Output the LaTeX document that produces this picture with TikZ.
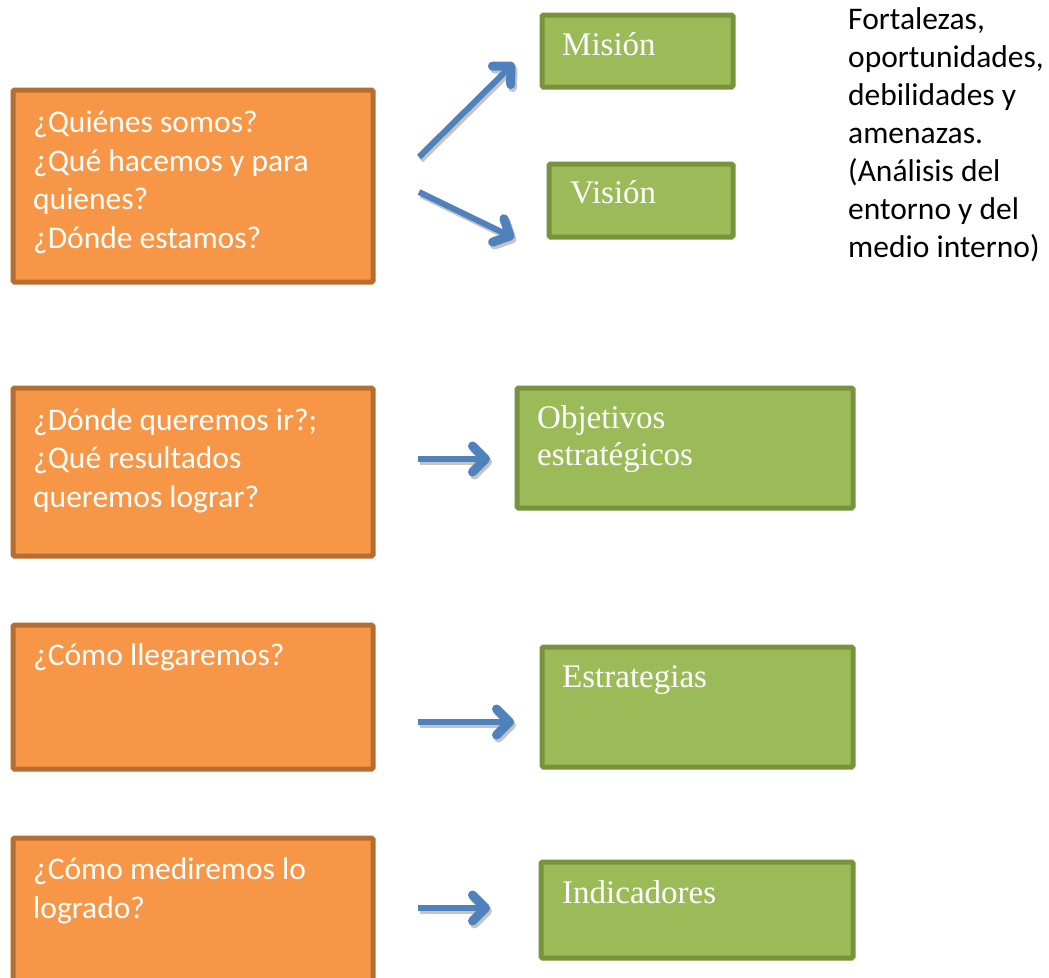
\documentclass[tikz,border=0pt]{standalone}
\usepackage{fontspec}
\usetikzlibrary{arrows.meta}
\newfontfamily\qfont{Carlito}
\newfontfamily\gfont{Liberation Serif}
\definecolor{orangefill}{HTML}{F79646}
\definecolor{orangeline}{HTML}{B66D31}
\definecolor{greenfill}{HTML}{9BBB59}
\definecolor{greenline}{HTML}{77933C}
\definecolor{arrowblue}{HTML}{4F81BD}
\definecolor{shadowgray}{HTML}{C4C4C4}

\begin{document}
\begin{tikzpicture}[x=1pt,y=-1pt,
    qbox/.style={rectangle,draw=orangeline,fill=orangefill,line width=5pt,rounded corners=1.5pt,anchor=north west,inner sep=0pt,minimum width=360pt},
    gbox/.style={rectangle,draw=greenline,fill=greenfill,line width=5pt,rounded corners=1.5pt,anchor=north west,inner sep=0pt},
    qtext/.style={anchor=base west,inner sep=0pt,align=left,text=white,font=\qfont\fontsize{31.5}{38.5}\selectfont},
    gtext/.style={anchor=base west,inner sep=0pt,align=left,text=white,font=\gfont\fontsize{33}{37}\selectfont},
    ftext/.style={anchor=base west,inner sep=0pt,align=left,text=black,font=\qfont\fontsize{31.5}{38}\selectfont},
    punta/.tip={Straight Barb[length=13pt,width=26pt,line width=9pt,line cap=round,line join=round]},
    flecha/.style={line width=6pt,arrowblue,-punta},
    sombra/.style={line width=6pt,shadowgray,-punta,transform canvas={xshift=2pt,yshift=-3pt}}]
    \useasboundingbox (0,0) rectangle (1049,977);

    % preguntas (base = ultima linea)
    \node[qbox,minimum height=192pt] (quienes) at (10.5,87.5) {};
    \node[qbox,minimum height=168pt] (donde) at (10.5,385.5) {};
    \node[qbox,minimum height=144pt] (como) at (10.5,622.5) {};
    \node[qbox,minimum height=170pt] (medir) at (10.5,835.5) {};

    \node[qtext] (quienes-t) at (33,248) {¿Quiénes somos?\\¿Qué hacemos y para\\quienes?\\¿Dónde estamos?};
    \node[qtext] (donde-t) at (33,507) {¿Dónde queremos ir?;\\¿Qué resultados\\queremos lograr?};
    \node[qtext] (como-t) at (33,665) {¿Cómo llegaremos?};
    \node[qtext] (medir-t) at (33,918) {¿Cómo mediremos lo\\logrado?};

    % respuestas
    \node[gbox,minimum width=191pt,minimum height=72pt] (mision) at (539.5,12.5) {};
    \node[gbox,minimum width=184pt,minimum height=73pt] (vision) at (546.5,161.5) {};
    \node[gbox,minimum width=336pt,minimum height=120pt] (objetivos) at (514.5,385.5) {};
    \node[gbox,minimum width=311pt,minimum height=120pt] (estrategias) at (539.5,644.5) {};
    \node[gbox,minimum width=312pt,minimum height=96pt] (indicadores) at (538.5,859.5) {};

    \node[gtext] (mision-t) at (562,55) {Misión};
    \node[gtext] (vision-t) at (570,203) {Visión};
    \node[gtext] (objetivos-t) at (537,465) {Objetivos\\estratégicos};
    \node[gtext] (estrategias-t) at (562,687) {Estrategias};
    \node[gtext] (indicadores-t) at (562,903) {Indicadores};

    \node[ftext] (foda) at (848,257) {Fortalezas,\\oportunidades,\\debilidades y\\amenazas.\\(Análisis del\\entorno y del\\medio interno)};

    % flechas
    \coordinate (m0) at (419,157);
    \coordinate (m1) at (514,63);
    \coordinate (v0) at (419,192);
    \coordinate (v1) at (514,238);
    \coordinate (o0) at (418,459);
    \coordinate (o1) at (490,459);
    \coordinate (e0) at (418,722);
    \coordinate (e1) at (514,722);
    \coordinate (i0) at (418,908);
    \coordinate (i1) at (490,908);

    \foreach \a/\b in {m0/m1,v0/v1,o0/o1,e0/e1,i0/i1}
        \draw[sombra] (\a) -- (\b);
    \foreach \a/\b in {m0/m1,v0/v1,o0/o1,e0/e1,i0/i1}
        \draw[flecha] (\a) -- (\b);
\end{tikzpicture}
\end{document}
